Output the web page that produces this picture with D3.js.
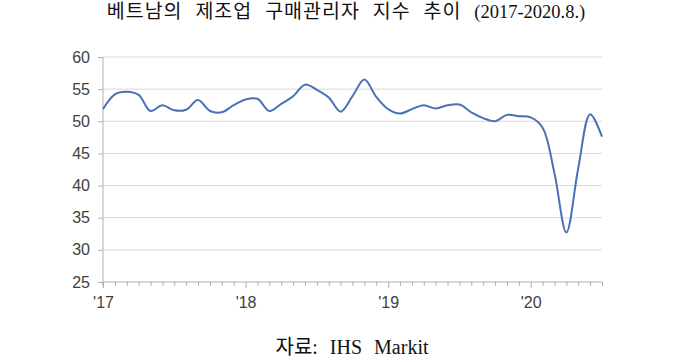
<!DOCTYPE html>
<html>
<head>
<meta charset="utf-8">
<script src="https://cdn.jsdelivr.net/npm/d3@7"></script>
<style>
  body { margin: 0; background: #fff; }
  .tit { font-family: "Liberation Serif", "Noto Sans CJK KR", serif; fill: #111; }
  .ax text { font-family: "Liberation Sans", Arial, sans-serif; font-size: 16px; fill: #404040; }
</style>
</head>
<body>
<div id="chart"></div>
<script>
// 베트남 제조업 PMI (월별, 2017.1 ~ 2020.7)
var months = [];
for (var yr = 2017; yr <= 2020; yr++) {
  for (var m = 1; m <= 12; m++) {
    if (yr == 2020 && m > 7) break;
    months.push(yr + "-" + m);
  }
}
var pmi = [
  51.9, 54.2, 54.6, 54.1, 51.6, 52.5, 51.7, 51.8, 53.3, 51.6, 51.4, 52.5,
  53.4, 53.5, 51.6, 52.7, 53.9, 55.7, 54.9, 53.7, 51.5, 53.9, 56.5, 53.8,
  51.9, 51.2, 51.9, 52.5, 52.0, 52.5, 52.6, 51.4, 50.5, 50.0, 51.0, 50.8,
  50.6, 49.0, 41.9, 32.7, 42.7, 51.1, 47.6
];
var yTicks = [25, 30, 35, 40, 45, 50, 55, 60];
var yearLabels = ["'17", "'18", "'19", "'20"];

var width = 699, height = 362;
var pLeft = 103, pRight = 602, pTop = 57, pBottom = 282;

var svg = d3.select("#chart").append("svg")
  .attr("width", width)
  .attr("height", height);

var x = d3.scaleLinear().domain([0, months.length - 1]).range([pLeft, pRight]);
var yScale = d3.scaleLinear().domain([25, 60]).range([pBottom, pTop]);

/* 그리드 */
svg.append("g").selectAll("line")
  .data(yTicks.slice(1))
  .enter().append("line")
  .attr("x1", pLeft).attr("x2", pRight)
  .attr("y1", function(d){ return yScale(d); })
  .attr("y2", function(d){ return yScale(d); })
  .attr("stroke", "#d9d9d9")
  .attr("stroke-width", 1);

/* y축 */
var yAxis = svg.append("g")
  .attr("class", "ax")
  .attr("transform", "translate(" + pLeft + ",0)")
  .call(d3.axisLeft(yScale).tickValues(yTicks).tickSize(5).tickPadding(8));
yAxis.select(".domain").attr("stroke", "#b0b0b0").attr("d", "M0," + pTop + "V" + (pBottom + 4));
yAxis.selectAll(".tick line").attr("stroke", "#b0b0b0");

/* x축 (월 눈금) */
var xAxis = svg.append("g")
  .attr("class", "ax")
  .attr("transform", "translate(0," + pBottom + ")")
  .call(d3.axisBottom(x)
    .tickValues(d3.range(0, months.length))
    .tickSize(4)
    .tickPadding(8)
    .tickFormat(function(d){ return d % 12 == 0 ? yearLabels[d / 12] : ""; }));
xAxis.select(".domain").attr("stroke", "#b0b0b0").attr("d", "M" + pLeft + ",0H" + pRight);
xAxis.selectAll(".tick line").attr("stroke", "#b0b0b0")
  .attr("y2", function(d){ return d % 12 == 0 ? 6 : 4; });
xAxis.selectAll(".tick text").attr("dy", "0.85em");

/* 라인 */
var line = d3.line()
  .x(function(d, i){ return x(i); })
  .y(function(d){ return yScale(d); })
  .curve(d3.curveCatmullRom);

svg.append("path")
  .datum(pmi)
  .attr("d", line)
  .attr("fill", "none")
  .attr("stroke", "#4a70b8")
  .attr("stroke-width", 2);

/* 제목, 출처 */
var title = svg.append("text")
  .attr("class", "tit")
  .attr("x", 346).attr("y", 18)
  .attr("text-anchor", "middle")
  .style("font-size", "19.5px")
  .style("word-spacing", "7px");
title.append("tspan").style("letter-spacing", "1px").text("베트남의 제조업 구매관리자 지수 추이 ");
title.append("tspan").style("font-size", "18.5px").text("(2017-2020.8.)");

svg.append("text")
  .attr("class", "tit")
  .attr("x", 352).attr("y", 354)
  .attr("text-anchor", "middle")
  .style("font-size", "20px")
  .style("word-spacing", "7px")
  .text("자료: IHS Markit");
</script>
</body>
</html>
